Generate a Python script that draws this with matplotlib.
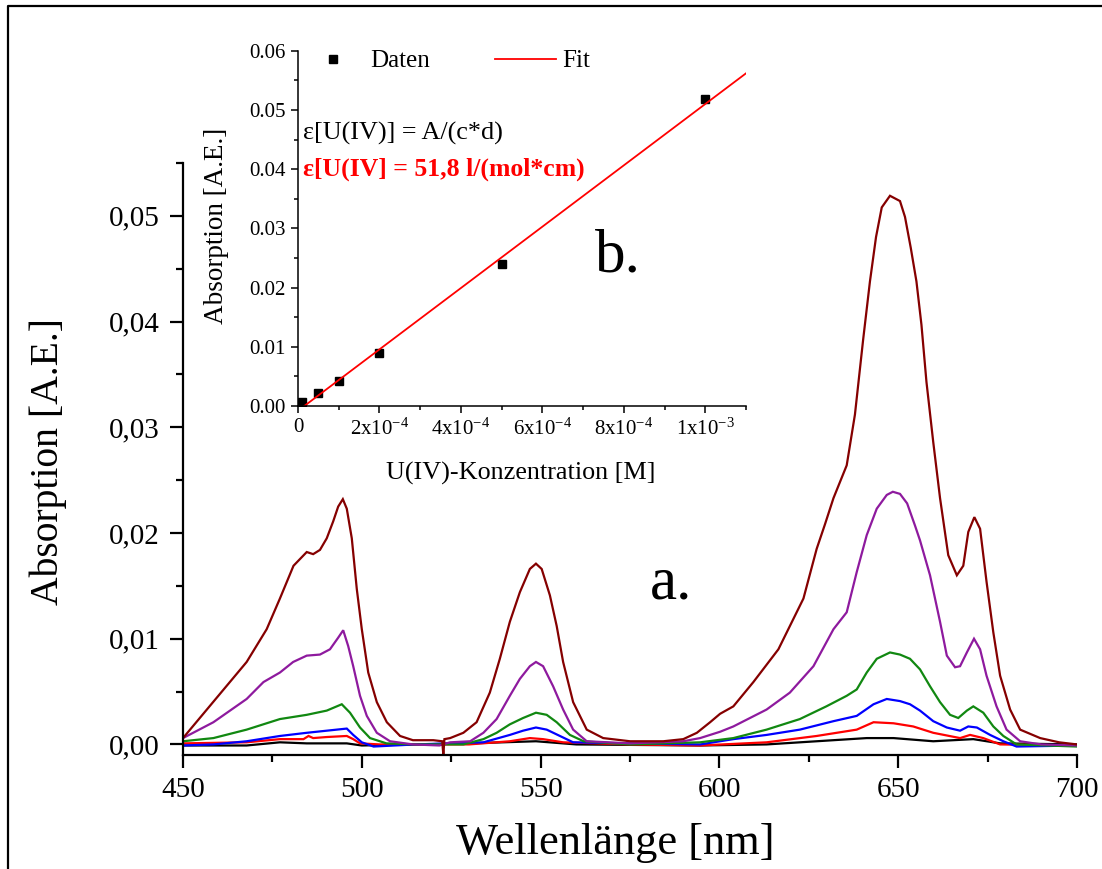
import matplotlib
matplotlib.use("Agg")
import matplotlib.pyplot as plt
from matplotlib.lines import Line2D
import numpy as np

plt.rcParams['font.family'] = ['Liberation Serif', 'DejaVu Serif']
plt.rcParams['mathtext.fontset'] = 'custom'
plt.rcParams['mathtext.rm'] = 'Liberation Serif'
plt.rcParams['mathtext.it'] = 'Liberation Serif:italic'
plt.rcParams['mathtext.bf'] = 'Liberation Serif:bold'

# ---------------- main spectra (wavelength nm, absorption) ----------------
wl_maroon = [450.0, 458.4, 467.8, 473.4, 477.1, 480.9, 484.6, 486.4, 488.3, 490.2, 492.0, 493.4,
             494.7, 495.8, 497.2, 498.6, 500.0, 501.8, 504.2, 507.0, 510.7, 514.3, 520.0, 522.5,
             522.8, 523.1, 524.7, 528.4, 532.1, 535.8, 538.6, 541.4, 544.2, 547.0, 548.7, 550.3,
             552.6, 554.5, 556.3, 559.1, 562.9, 567.5, 575.0, 584.3, 589.9, 593.7, 597.4, 600.2,
             603.9, 609.5, 616.5, 623.5, 627.2, 629.5, 631.9, 635.6, 637.9, 640.2, 642.1, 643.8,
             645.4, 647.7, 650.5, 651.9, 653.5, 655.1, 656.5, 657.9, 659.8, 661.7, 664.0, 666.4,
             668.2, 669.6, 671.3, 672.9, 674.7, 676.6, 678.5, 681.3, 684.1, 689.7, 695.0, 700.0]
abs_maroon = [0.0006, 0.0040, 0.0078, 0.0109, 0.0138, 0.0169, 0.0182, 0.0180, 0.0184, 0.0195, 0.0211, 0.0225,
              0.0232, 0.0223, 0.0195, 0.0147, 0.0109, 0.0068, 0.0040, 0.0021, 0.0008, 0.0004, 0.0004, 0.0003,
              -0.0010, 0.0005, 0.0006, 0.0011, 0.0021, 0.0049, 0.0081, 0.0116, 0.0144, 0.0166, 0.0171, 0.0166,
              0.0141, 0.0112, 0.0078, 0.0040, 0.0014, 0.0006, 0.0003, 0.0003, 0.0005, 0.0011, 0.0021, 0.0029,
              0.0036, 0.0059, 0.0090, 0.0138, 0.0185, 0.0208, 0.0233, 0.0264, 0.0312, 0.0383, 0.0438, 0.0480,
              0.0508, 0.0519, 0.0514, 0.0499, 0.0470, 0.0438, 0.0397, 0.0343, 0.0286, 0.0233, 0.0179, 0.0160,
              0.0169, 0.0201, 0.0215, 0.0204, 0.0154, 0.0106, 0.0065, 0.0033, 0.0014, 0.0006, 0.0002, 0.0000]

wl_purple = [450.0, 458.5, 467.8, 472.5, 477.1, 480.8, 484.6, 488.3, 491.1, 493.4, 494.8, 496.2,
             497.6, 499.5, 501.4, 504.2, 507.9, 514.3, 521.7, 524.7, 530.3, 534.0, 537.7, 541.4,
             544.2, 547.0, 548.7, 550.7, 553.5, 556.3, 559.1, 562.9, 575.0, 589.9, 594.6, 600.2,
             603.9, 613.2, 619.7, 626.3, 631.9, 635.6, 638.4, 641.2, 644.0, 646.8, 648.5, 650.5,
             652.5, 654.7, 656.1, 658.9, 661.7, 663.6, 665.9, 667.3, 669.2, 671.2, 672.9, 674.7,
             677.5, 680.3, 684.1, 690.0, 700.0]
abs_purple = [0.0006, 0.0021, 0.0043, 0.0059, 0.0068, 0.0078, 0.0084, 0.0085, 0.0090, 0.0101, 0.0108, 0.0093,
              0.0074, 0.0046, 0.0027, 0.0011, 0.0003, 0.0000, -0.0001, 0.0002, 0.0003, 0.0011, 0.0024, 0.0046,
              0.0062, 0.0074, 0.0078, 0.0074, 0.0055, 0.0033, 0.0014, 0.0003, 0.0001, 0.0003, 0.0006, 0.0012,
              0.0017, 0.0033, 0.0049, 0.0074, 0.0109, 0.0125, 0.0163, 0.0198, 0.0223, 0.0236, 0.0239, 0.0237,
              0.0228, 0.0207, 0.0193, 0.0160, 0.0116, 0.0084, 0.0073, 0.0074, 0.0087, 0.0100, 0.0090, 0.0065,
              0.0036, 0.0014, 0.0003, 0.0000, -0.0001]

wl_green = [450.0, 458.5, 467.8, 477.1, 484.6, 490.2, 494.4, 496.7, 499.5, 502.3, 506.9, 515.0,
            528.4, 534.0, 537.7, 541.4, 545.1, 548.7, 551.7, 554.5, 558.2, 562.0, 575.0, 594.6,
            603.9, 613.2, 622.5, 629.9, 635.6, 638.4, 641.2, 644.0, 647.7, 650.5, 653.3, 656.1,
            658.9, 661.7, 664.5, 666.8, 669.2, 671.0, 673.8, 676.6, 679.4, 683.1, 700.0]
abs_green = [0.0003, 0.0006, 0.0014, 0.0024, 0.0028, 0.0032, 0.0038, 0.0030, 0.0016, 0.0006, 0.0001, 0.0000,
             0.0000, 0.0005, 0.0011, 0.0019, 0.0025, 0.0030, 0.0028, 0.0021, 0.0009, 0.0003, 0.0000, 0.0002,
             0.0006, 0.0014, 0.0024, 0.0036, 0.0046, 0.0052, 0.0068, 0.0081, 0.0087, 0.0085, 0.0081, 0.0071,
             0.0055, 0.0040, 0.0028, 0.0025, 0.0032, 0.0036, 0.0030, 0.0017, 0.0008, 0.0000, -0.0002]

wl_blue = [450.0, 458.5, 467.8, 477.1, 484.6, 490.2, 495.8, 497.6, 500.0, 503.3, 515.0, 534.0,
           541.4, 545.1, 548.7, 551.7, 555.4, 559.1, 575.0, 594.6, 603.9, 613.2, 622.5, 631.9,
           638.4, 643.1, 646.8, 650.5, 653.3, 656.1, 659.8, 663.6, 667.3, 669.6, 672.0, 675.7,
           679.4, 683.1, 700.0]
abs_blue = [-0.0001, 0.0000, 0.0003, 0.0008, 0.0011, 0.0013, 0.0015, 0.0009, 0.0002, -0.0002, 0.0000, 0.0002,
            0.0009, 0.0013, 0.0016, 0.0014, 0.0008, 0.0002, 0.0001, 0.0000, 0.0005, 0.0009, 0.0014, 0.0022,
            0.0027, 0.0038, 0.0043, 0.0041, 0.0038, 0.0032, 0.0022, 0.0016, 0.0013, 0.0017, 0.0016, 0.0009,
            0.0003, -0.0002, -0.0001]

wl_red = [450.0, 467.8, 477.1, 483.7, 485.1, 486.4, 490.2, 495.8, 497.6, 499.5, 505.0, 530.0,
          541.4, 547.0, 550.7, 556.3, 575.0, 594.6, 613.2, 627.2, 638.4, 643.1, 648.7, 654.2,
          659.8, 667.3, 670.1, 673.8, 678.5, 700.0]
abs_red = [0.0001, 0.0002, 0.0005, 0.0005, 0.0008, 0.0006, 0.0007, 0.0008, 0.0005, 0.0001, 0.0000, 0.0000,
           0.0003, 0.0006, 0.0005, 0.0002, 0.0000, -0.0001, 0.0002, 0.0008, 0.0014, 0.0021, 0.0020, 0.0017,
           0.0011, 0.0006, 0.0009, 0.0006, 0.0000, -0.0001]

wl_black = [450.0, 467.8, 477.1, 484.6, 495.8, 500.0, 530.0, 548.7, 560.0, 594.6, 613.2, 627.2,
            641.2, 648.7, 659.8, 671.0, 678.5, 700.0]
abs_black = [-0.0001, -0.0001, 0.0002, 0.0001, 0.0001, -0.0001, 0.0001, 0.0003, 0.0000, -0.0001, 0.0000, 0.0003,
             0.0006, 0.0006, 0.0003, 0.0005, 0.0001, 0.0000]

main_xticks = [450, 500, 550, 600, 650, 700]
main_xticklabels = ['450', '500', '550', '600', '650', '700']
main_yticks = [0.00, 0.01, 0.02, 0.03, 0.04, 0.05]
main_yticklabels = ['0,00', '0,01', '0,02', '0,03', '0,04', '0,05']

# ---------------- inset (concentration M, absorption) ----------------
conc = [1e-5, 5e-5, 1e-4, 2e-4, 5e-4, 1e-3]
conc_abs = [0.0007, 0.0022, 0.0042, 0.0089, 0.0240, 0.0518]
fit_slope = 51.8
fit_intercept = -0.0008
fit_range = [1.54e-5, 1.1e-3]

inset_xticks = [0, 2e-4, 4e-4, 6e-4, 8e-4, 1e-3]
inset_xticklabels = ['0', r'2x10$^{\mathregular{-4}}$', r'4x10$^{\mathregular{-4}}$',
                     r'6x10$^{\mathregular{-4}}$', r'8x10$^{\mathregular{-4}}$', r'1x10$^{\mathregular{-3}}$']
inset_yticks = [0.00, 0.01, 0.02, 0.03, 0.04, 0.05, 0.06]
inset_yticklabels = ['0.00', '0.01', '0.02', '0.03', '0.04', '0.05', '0.06']

W, H = 1102, 869
fig = plt.figure(figsize=(W / 100, H / 100), dpi=100)

def rect(l, t, r, b):
    return [l / W, 1 - b / H, (r - l) / W, (b - t) / H]

# ---- main axes ----
ax = fig.add_axes(rect(183, 163, 1077, 755))
series = [(wl_black, abs_black, 'black'),
          (wl_red, abs_red, '#ff0000'),
          (wl_blue, abs_blue, '#0000ff'),
          (wl_green, abs_green, '#118811'),
          (wl_purple, abs_purple, '#8e1a9e'),
          (wl_maroon, abs_maroon, '#850000')]
for x, y, c in series:
    ax.plot(x, y, color=c, lw=1.6, solid_joinstyle='miter')

ax.set_xlim(450, 700)
ax.set_ylim(-0.001, 0.055)
for s in ['top', 'right']:
    ax.spines[s].set_visible(False)
for s in ['left', 'bottom']:
    ax.spines[s].set_linewidth(1.6)
ax.set_xticks(main_xticks)
ax.set_xticklabels(main_xticklabels)
ax.set_yticks(main_yticks)
ax.set_yticklabels(main_yticklabels)
ax.set_xticks([475, 525, 575, 625, 675], minor=True)
ax.set_yticks([0.005, 0.015, 0.025, 0.035, 0.045, 0.055], minor=True)
ax.tick_params(which='major', direction='out', length=9.5, width=1.6, labelsize=21)
ax.tick_params(axis='y', which='major', pad=7.5)
ax.tick_params(axis='x', which='major', pad=6)
ax.tick_params(which='minor', direction='out', length=5, width=1.6)
ax.set_xlabel('Wellenlänge [nm]', fontsize=32)
ax.xaxis.set_label_coords(0.484, -0.1486)
ax.xaxis.label.set_va('center')
ax.set_ylabel('Absorption [A.E.]', fontsize=28.5)
ax.yaxis.set_label_coords(-0.151, 0.495)
ax.yaxis.label.set_va('center')
ax.text(580.6, 0.0138, 'a.', fontsize=44, va='baseline', ha='left')

# ---- inset axes ----
ax2 = fig.add_axes(rect(298, 50.7, 746, 406))
ax2.patch.set_alpha(0)
ax2.plot(conc, conc_abs, ls='none', marker='s', ms=6, color='black', label='Daten')
fx = np.array(fit_range)
ax2.plot(fx, fit_intercept + fit_slope * fx, color='#ff0000', lw=1.3, label='Fit')
ax2.set_xlim(0, 1.1e-3)
ax2.set_ylim(0, 0.06)
for s in ['top', 'right']:
    ax2.spines[s].set_visible(False)
for s in ['left', 'bottom']:
    ax2.spines[s].set_linewidth(1.1)
ax2.set_xticks(inset_xticks)
ax2.set_xticklabels(inset_xticklabels)
ax2.set_yticks(inset_yticks)
ax2.set_yticklabels(inset_yticklabels)
ax2.set_xticks([1e-4, 3e-4, 5e-4, 7e-4, 9e-4, 1.1e-3], minor=True)
ax2.set_yticks([0.005, 0.015, 0.025, 0.035, 0.045, 0.055], minor=True)
ax2.tick_params(which='major', direction='out', length=5, width=1.1, labelsize=15, pad=4)
ax2.tick_params(which='minor', direction='out', length=3, width=1.1)
ax2.set_xlabel('U(IV)-Konzentration [M]', fontsize=18.8)
ax2.xaxis.set_label_coords(0.498, -0.191)
ax2.xaxis.label.set_va('center')
ax2.set_ylabel('Absorption [A.E.]', fontsize=19.5)
ax2.yaxis.set_label_coords(-0.181, 0.507)
ax2.yaxis.label.set_va('center')
ax2.legend(loc='center left', bbox_to_anchor=(0.011, 0.971), ncol=2, frameon=False,
           fontsize=18, borderpad=0, borderaxespad=0, handlelength=2.44,
           handletextpad=0.25, columnspacing=2.6, markerscale=1.0)
ax2.text(1.2e-5, 0.0461, 'ε[U(IV)] = A/(c*d)', fontsize=18.8, va='center', ha='left')
ax2.text(1.2e-5, 0.0399, 'ε[U(IV] = 51,8 l/(mol*cm)', fontsize=18.5, fontweight='bold',
         color='#ff0000', va='center', ha='left')
ax2.text(7.28e-4, 0.0227, 'b.', fontsize=44, va='baseline', ha='left')

# ---- figure border (top and left) ----
fig.add_artist(Line2D([8 / W, 8 / W, 1.0], [0.0, 1 - 6 / H, 1 - 6 / H],
                      transform=fig.transFigure, color='black', lw=1.6))

fig.savefig('out.png', dpi=100)
